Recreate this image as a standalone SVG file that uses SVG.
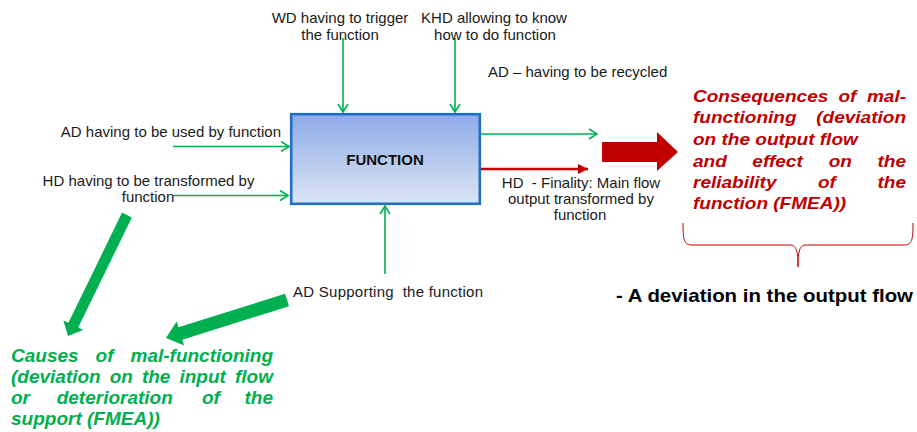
<svg xmlns="http://www.w3.org/2000/svg" width="917" height="432" viewBox="0 0 917 432">
<style>
.lbl{font-family:"Liberation Sans",Arial,sans-serif;font-size:15px;fill:#1a1a1a}
.fn{font-family:"Liberation Sans",Arial,sans-serif;font-size:15px;font-weight:bold;fill:#111}
.red{font-family:"Liberation Sans",Arial,sans-serif;font-size:17px;font-weight:bold;font-style:italic;fill:#c00000}
.grn{font-family:"Liberation Sans",Arial,sans-serif;font-size:19px;font-weight:bold;font-style:italic;fill:#00b050}
.dev{font-family:"Liberation Sans",Arial,sans-serif;font-size:17.5px;font-weight:bold;fill:#000}
.g{stroke:#00b050;stroke-width:1.6;fill:none}
.r{stroke:#c00000;stroke-width:2.4;fill:none}
</style>
<defs>
<linearGradient id="boxg" x1="0" y1="0" x2="0" y2="1">
<stop offset="0" stop-color="#8dabe7"/>
<stop offset="1" stop-color="#dce5f5"/>
</linearGradient>
<marker id="ag" markerWidth="12" markerHeight="12" refX="9" refY="6" orient="auto" markerUnits="userSpaceOnUse">
<path d="M1,1 L9,6 L1,11" fill="none" stroke="#00b050" stroke-width="1.6"/>
</marker>
<marker id="ar" markerWidth="12" markerHeight="12" refX="10" refY="6" orient="auto" markerUnits="userSpaceOnUse">
<path d="M0,1 L10,6 L0,11 Z" fill="#c00000"/>
</marker>
</defs>
<rect width="917" height="432" fill="#fff"/>

<g id="connectors">
<line class="g" x1="343" y1="38" x2="343" y2="112" marker-end="url(#ag)"/>
<line class="g" x1="455" y1="38" x2="455" y2="112" marker-end="url(#ag)"/>
<line class="g" x1="173" y1="146.5" x2="289" y2="146.5" marker-end="url(#ag)"/>
<line class="g" x1="173" y1="195.5" x2="288" y2="195.5" marker-end="url(#ag)"/>
<line class="g" x1="385" y1="274" x2="385" y2="206" marker-end="url(#ag)"/>
<line class="g" x1="481" y1="134" x2="597" y2="134" marker-end="url(#ag)"/>
<line class="r" x1="481" y1="169" x2="588" y2="169" marker-end="url(#ar)"/>
<polygon points="602,142 657,142 657,132 678,152 657,171 657,162 602,162" fill="#c00000"/>
<polygon points="122.1,212.6 131.9,217.4 78.2,327.6 83.2,330 68,336 63.4,320.4 68.4,322.8" fill="#00b050"/>
<polygon points="285.1,293.8 289,306.2 182.3,339.7 184.1,345.4 166,338 176.6,321.6 178.4,327.3" fill="#00b050"/>
<path d="M683,223 C683,240 684,245 692,245 L790,245 C796,245 798,250 798,267 C798,250 800,245 806,245 L904,245 C912,245 913,240 913,223" fill="none" stroke="#c00000" stroke-width="1"/>
</g>

<g id="function">
<rect x="291.2" y="114.2" width="188.6" height="89.6" fill="url(#boxg)" stroke="#1f6fc6" stroke-width="2.6"/>
<text class="fn" x="385" y="165" text-anchor="middle">FUNCTION</text>
</g>

<g id="wd">
<text class="lbl" x="340" y="23" text-anchor="middle">WD having to trigger</text>
<text class="lbl" x="340" y="40" text-anchor="middle">the function</text>
</g>
<g id="khd">
<text class="lbl" x="494" y="23" text-anchor="middle">KHD allowing to know</text>
<text class="lbl" x="495" y="40" text-anchor="middle">how to do function</text>
</g>
<g id="ad-used">
<text class="lbl" x="281" y="137" text-anchor="end">AD having to be used by function</text>
</g>
<g id="hd-transformed">
<text class="lbl" x="148.5" y="186" text-anchor="middle">HD having to be transformed by</text>
<text class="lbl" x="148" y="202" text-anchor="middle">function</text>
</g>
<g id="ad-support">
<text class="lbl" x="293" y="297" textLength="190" lengthAdjust="spacing">AD Supporting&#160; the function</text>
</g>
<g id="ad-recycled">
<text class="lbl" x="488" y="77">AD – having to be recycled</text>
</g>
<g id="hd-finality">
<text class="lbl" x="581" y="188" text-anchor="middle">HD&#160; - Finality: Main flow</text>
<text class="lbl" x="581" y="204" text-anchor="middle">output transformed by</text>
<text class="lbl" x="580" y="220" text-anchor="middle">function</text>
</g>

<g id="consequences" transform="matrix(1.12,0,0,1,-83.16,0)">
<text class="red" y="102"><tspan x="693">Consequences</tspan><tspan x="822.9">of</tspan><tspan x="883.2" text-anchor="end">mal-</tspan></text>
<text class="red" y="123"><tspan x="693">functioning</tspan><tspan x="883.2" text-anchor="end">(deviation</tspan></text>
<text class="red" x="693" y="145">on the output flow</text>
<text class="red" y="167"><tspan x="693">and</tspan><tspan x="746">effect</tspan><tspan x="814.2">on</tspan><tspan x="883.2" text-anchor="end">the</tspan></text>
<text class="red" y="188"><tspan x="693">reliability</tspan><tspan x="804.6">of</tspan><tspan x="883.2" text-anchor="end">the</tspan></text>
<text class="red" x="693" y="209">function (FMEA))</text>
</g>

<g id="deviation" transform="matrix(1.169,0,0,1,-104.1,0)">
<text class="dev" x="616" y="302">- A deviation in the output flow</text>
</g>

<g id="causes">
<text class="grn" y="362"><tspan x="11">Causes</tspan><tspan x="95.6">of</tspan><tspan x="273" text-anchor="end">mal-functioning</tspan></text>
<text class="grn" y="383"><tspan x="11">(deviation</tspan><tspan x="109.7">on</tspan><tspan x="141.9">the</tspan><tspan x="179.4">input</tspan><tspan x="273" text-anchor="end">flow</tspan></text>
<text class="grn" y="404"><tspan x="11">or</tspan><tspan x="56.7">deterioration</tspan><tspan x="202">of</tspan><tspan x="273" text-anchor="end">the</tspan></text>
<text class="grn" x="11" y="425">support (FMEA))</text>
</g>
</svg>
